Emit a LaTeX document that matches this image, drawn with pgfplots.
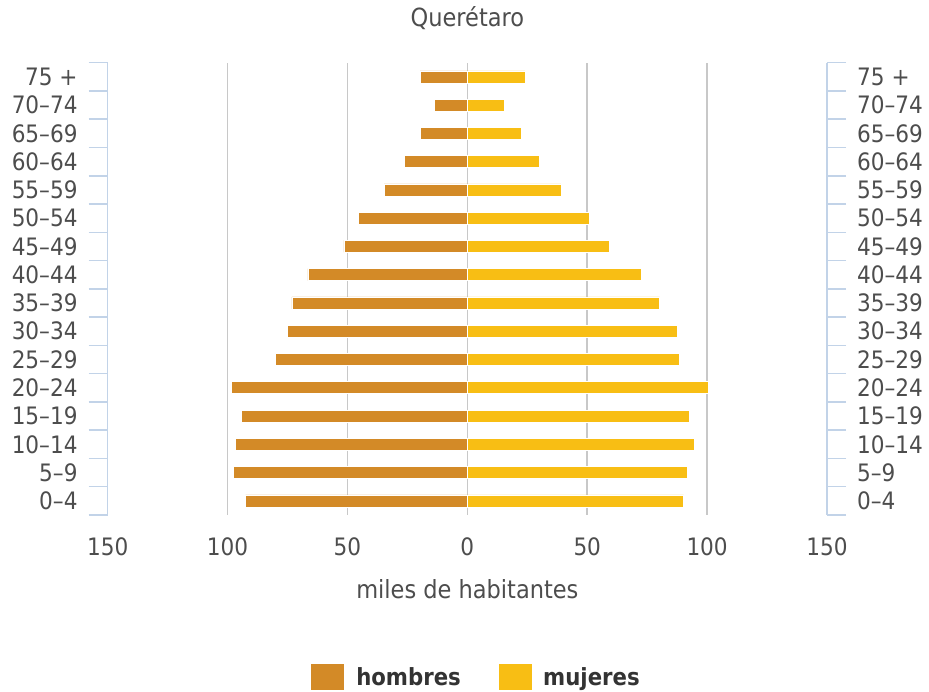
\documentclass[border=0pt]{standalone}
\usepackage{pgfplots}
\pgfplotsset{compat=1.18}
\usepackage{fontspec}
\setmainfont{DejaVu Sans Condensed}
\definecolor{men}{HTML}{D38A27}
\definecolor{women}{HTML}{F8BE14}
\definecolor{axisblue}{HTML}{C2D3E8}
\definecolor{gridgray}{HTML}{C8C8C8}
\definecolor{txt}{HTML}{4D4D4D}
\definecolor{legtxt}{HTML}{333333}
\begin{document}
\begin{tikzpicture}
\path[use as bounding box] (0pt,0pt) rectangle (929pt,692pt);
\begin{axis}[
  at={(107.7pt,177pt)}, anchor=south west,
  scale only axis, width=719.3pt, height=452.3pt,
  xmin=-150, xmax=150, ymin=-0.5, ymax=15.5,
  separate axis lines,
  x axis line style={draw=none},
  y axis line style={draw=axisblue, line width=1.5pt},
  xtick={-100,-50,0,50,100},
  xticklabels={100,50,0,50,100},
  extra x ticks={-150,150},
  extra x tick labels={150,150},
  extra x tick style={grid=none},
  xmajorgrids,
  major grid style={draw=gridgray, line width=1.5pt},
  ytick={0,...,15},
  yticklabels={0–4,5–9,10–14,15–19,20–24,25–29,30–34,35–39,40–44,45–49,50–54,55–59,60–64,65–69,70–74,75 +},
  minor ytick={-0.5,0.5,...,15.5},
  major tick length=0pt,
  minor tick length=19pt,
  tick align=outside,
  major tick style={draw=none},
  minor tick style={draw=axisblue, line width=1.5pt},
  tick label style={font=\fontsize{24}{28}\selectfont, text=txt},
  xticklabel style={anchor=base, yshift=-41pt},
  yticklabel style={anchor=east, inner sep=0pt, xshift=-30pt},
  every axis title/.style={at={(0.5,1)}, anchor=base, yshift=35.7pt, font=\fontsize{25}{29}\selectfont, text=txt},
  title={Querétaro},
  every axis x label/.style={at={(0.5,0)}, anchor=base, yshift=-84pt, font=\fontsize{25}{29}\selectfont, text=txt},
  xlabel={miles de habitantes},
  legend style={at={(0.511,-0.358)}, anchor=center, draw=none, fill=none, legend columns=2,
    font=\bfseries\fontsize{23.6}{28}\selectfont, text=legtxt,
    /tikz/every even column/.append style={column sep=38pt}, nodes={inner sep=0pt}},
  legend cell align=left,
]
\addplot[xbar, bar width=12pt, bar shift=0pt, fill=men, draw=white, line width=0.6pt, forget plot] coordinates {
(-92.5,0) (-97.5,1) (-96.7,2) (-94.1,3) (-98.3,4) (-79.9,5) (-74.9,6) (-73.2,7)
(-66.5,8) (-51.5,9) (-45.6,10) (-34.7,11) (-26.4,12) (-19.7,13) (-13.7,14) (-19.7,15)};
\addplot[xbar, bar width=12pt, bar shift=0pt, fill=women, draw=white, line width=0.6pt, forget plot] coordinates {
(90.2,0) (91.9,1) (94.6,2) (92.7,3) (100.4,4) (88.5,5) (87.7,6) (80.2,7)
(72.5,8) (59.3,9) (50.8,10) (39.0,11) (30.0,12) (22.4,13) (15.6,14) (24.1,15)};
\addlegendimage{legend image code/.code={\fill[men] (0pt,-12.5pt) rectangle (32pt,12.5pt); \path (45pt,0pt);}}
\addlegendentry{hombres}
\addlegendimage{legend image code/.code={\fill[women] (0pt,-12.5pt) rectangle (32pt,12.5pt); \path (44pt,0pt);}}
\addlegendentry{mujeres}
\end{axis}
\begin{axis}[
  at={(107.7pt,177pt)}, anchor=south west,
  scale only axis, width=719.3pt, height=452.3pt,
  xmin=-150, xmax=150, ymin=-0.5, ymax=15.5,
  hide x axis,
  axis y line*=right,
  y axis line style={draw=none},
  ytick={0,...,15},
  yticklabels={0–4,5–9,10–14,15–19,20–24,25–29,30–34,35–39,40–44,45–49,50–54,55–59,60–64,65–69,70–74,75 +},
  major tick length=0pt,
  major tick style={draw=none},
  yticklabel pos=right,
  tick label style={font=\fontsize{24}{28}\selectfont, text=txt},
  yticklabel style={anchor=west, inner sep=0pt, xshift=30pt},
]
\end{axis}
\end{tikzpicture}
\end{document}
